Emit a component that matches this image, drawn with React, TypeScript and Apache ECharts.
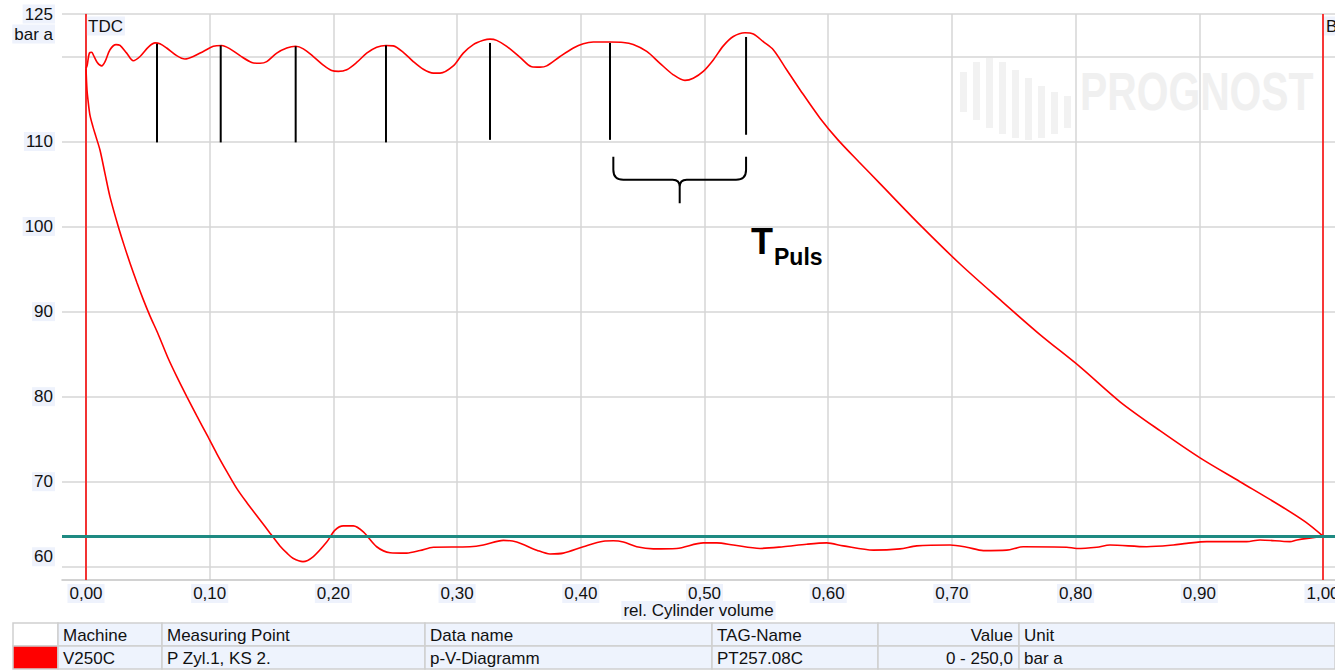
import React, { useEffect, useRef } from 'react';
import * as echarts from 'echarts';

const FONT = '"Liberation Sans", Arial, sans-serif';
const LABEL_BG = '#eef2fc';

const xTicks = [0, 0.1, 0.2, 0.3, 0.4, 0.5, 0.6, 0.7, 0.8, 0.9, 1.0];
const yGridValues = [60, 70, 80, 90, 100, 110, 120, 125];
const yLabelValues = [60, 70, 80, 90, 100, 110, 125];

// discharge + compression line (bar a vs rel. volume)
const upperCurve: [number, number][] = [
  [0.0, 118.6], [0.001, 119.0], [0.0027, 120.4], [0.0046, 120.5], [0.0059, 120.2], [0.0091, 119.3],
  [0.0127, 118.9], [0.0154, 119.4], [0.0194, 120.8], [0.0243, 121.4], [0.0275, 121.3], [0.0329, 120.4],
  [0.0382, 119.5], [0.0437, 120.0], [0.0504, 121.1], [0.0558, 121.6], [0.0598, 121.5], [0.0652, 121.0],
  [0.0733, 120.1], [0.08, 119.7], [0.0867, 120.0], [0.0948, 120.6], [0.1029, 121.2], [0.1097, 121.3],
  [0.1164, 120.9], [0.1245, 120.1], [0.134, 119.3], [0.1407, 119.2], [0.1461, 119.4], [0.1542, 120.4],
  [0.1623, 121.0], [0.1695, 121.2], [0.1757, 120.9], [0.1838, 120.0], [0.1918, 119.0], [0.1986, 118.35],
  [0.204, 118.25], [0.2108, 118.45], [0.2188, 119.3], [0.2269, 120.4], [0.235, 121.1], [0.2425, 121.3],
  [0.2484, 121.25], [0.2565, 120.5], [0.2646, 119.4], [0.2727, 118.5], [0.2808, 118.05], [0.2862, 118.05],
  [0.2969, 118.9], [0.305, 120.4], [0.3131, 121.4], [0.3212, 121.9], [0.3266, 122.05], [0.332, 121.9],
  [0.3401, 121.2], [0.3509, 119.9], [0.3603, 118.8], [0.367, 118.75], [0.3724, 118.9], [0.3832, 120.0],
  [0.394, 121.0], [0.402, 121.5], [0.4101, 121.7], [0.4236, 121.7], [0.4344, 121.65], [0.4424, 121.4],
  [0.4533, 120.6], [0.464, 119.2], [0.4748, 117.85], [0.4842, 117.2], [0.4909, 117.45], [0.499, 118.25],
  [0.5071, 119.6], [0.5152, 121.25], [0.5233, 122.35], [0.5327, 122.8], [0.5395, 122.65], [0.5475, 121.75],
  [0.5556, 120.8], [0.5664, 118.45], [0.5772, 116.1], [0.5934, 112.75], [0.6079, 110.2], [0.6249, 107.6],
  [0.6419, 105.05], [0.6742, 100.2], [0.7066, 95.6], [0.7389, 91.4], [0.7712, 87.3], [0.8036, 83.5],
  [0.8359, 79.4], [0.8682, 76.0], [0.9006, 72.8], [0.9329, 70.0], [0.9652, 67.2], [0.9855, 65.3], [1.0, 63.6],
];

// expansion + suction line
const lowerCurve: [number, number][] = [
  [0.0, 118.6], [0.0008, 116.1], [0.0016, 114.9], [0.0032, 113.1], [0.0057, 111.7], [0.0081, 110.55],
  [0.0113, 109.0], [0.0154, 106.2], [0.0194, 103.5], [0.0259, 100.1], [0.0307, 97.85], [0.0356, 95.7],
  [0.0412, 93.4], [0.0461, 91.5], [0.0517, 89.5], [0.0582, 87.4], [0.0663, 84.55], [0.0736, 82.3],
  [0.0817, 79.95], [0.0897, 77.7], [0.0978, 75.5], [0.1059, 73.25], [0.114, 71.15], [0.1221, 69.15],
  [0.1302, 67.5], [0.1407, 65.5], [0.1488, 63.95], [0.1568, 62.45], [0.1625, 61.6], [0.1673, 61.0],
  [0.1754, 60.6], [0.1838, 61.2], [0.1946, 62.9], [0.2013, 64.3], [0.208, 64.8], [0.2161, 64.8], [0.2242, 64.1],
  [0.235, 62.35], [0.2458, 61.65], [0.2593, 61.6], [0.27, 61.9], [0.2808, 62.3], [0.3104, 62.35],
  [0.3212, 62.55], [0.3374, 63.1], [0.3482, 62.9], [0.3644, 61.95], [0.3751, 61.5], [0.3859, 61.6],
  [0.402, 62.35], [0.4182, 63.0], [0.4263, 63.05], [0.4344, 62.9], [0.4452, 62.35], [0.4586, 62.1],
  [0.4775, 62.15], [0.499, 62.8], [0.5099, 62.8], [0.5233, 62.55], [0.5449, 62.15], [0.5637, 62.35],
  [0.5826, 62.65], [0.5988, 62.8], [0.6122, 62.45], [0.6365, 61.95], [0.658, 62.1], [0.6715, 62.45],
  [0.6985, 62.55], [0.712, 62.3], [0.7254, 61.9], [0.7443, 61.95], [0.7577, 62.35], [0.7928, 62.3],
  [0.8009, 62.15], [0.8171, 62.3], [0.8278, 62.55], [0.8575, 62.35], [0.879, 62.55], [0.8898, 62.75],
  [0.906, 62.95], [0.9383, 62.95], [0.9491, 63.15], [0.9733, 62.95], [0.979, 63.15], [1.0, 63.6],
];

const suctionPressure = 63.58;
const tdcPosition = 0;
const bdcPosition = 1;

// pulse peak markers
const markerX = [0.0574, 0.1089, 0.1695, 0.2425, 0.3266, 0.4236, 0.5336];
const markerTop = [121.5, 121.3, 121.2, 121.3, 121.6, 121.6, 122.3];
const markerBottom = [109.9, 109.9, 109.9, 109.9, 110.2, 110.2, 110.8];

// bracket marking T_Puls (between marker 6 and 7)
const bracketLeft = 0.4263;
const bracketRight = 0.5336;
const bracketTop = 108.2;
const bracketBar = 105.5;
const bracketTip = 102.75;

const tableColumns = ['', 'Machine', 'Measuring Point', 'Data name', 'TAG-Name', 'Value', 'Unit'];
const tableRow = ['', 'V250C', 'P Zyl.1, KS 2.', 'p-V-Diagramm', 'PT257.08C', '0 - 250,0', 'bar a'];
const tableColEdges = [13, 58, 162, 425, 712, 878, 1019, 1335];

function fmtX(v: number) {
  return v.toFixed(2).replace('.', ',');
}

export default function App() {
  const ref = useRef<HTMLDivElement>(null);
  useEffect(() => {
    if (!ref.current) return;
    const chart = echarts.init(ref.current, undefined, { renderer: 'svg' });

    const graphics: any[] = [];
    // watermark
    const barTops = [72, 62, 58, 62, 70, 78, 86, 92, 96];
    const barBottoms = [112, 120, 128, 134, 138, 140, 138, 134, 128];
    barTops.forEach((t, i) => {
      graphics.push({
        type: 'rect', z: -1, silent: true,
        shape: { x: 960 + i * 13, y: t, width: 7, height: barBottoms[i] - t },
        style: { fill: '#f2f2f2' },
      });
    });
    graphics.push({
      type: 'text', z: -1, silent: true, x: 1080, y: 92, scaleX: 0.77,
      style: {
        text: 'PROGNOST', fill: '#f0f0f0', font: `bold 53px ${FONT}`,
        textAlign: 'left', textVerticalAlign: 'middle',
      },
    });
    const lbl = (text: string, x: number, y: number, align: string) => ({
      type: 'text', x, y, z: 5,
      style: {
        text, fill: '#111', font: `17px ${FONT}`, textAlign: align, textVerticalAlign: 'middle',
        backgroundColor: LABEL_BG, padding: [1, 2],
      },
    });
    graphics.push(lbl('bar a', 55, 34, 'right'));
    graphics.push(lbl('TDC', 86, 26, 'left'));
    graphics.push(lbl('BDC', 1324, 26, 'left'));
    graphics.push({
      type: 'text', x: 751, y: 241, z: 5,
      style: { text: 'T', fill: '#000', font: `bold 36px ${FONT}`, textAlign: 'left', textVerticalAlign: 'middle' },
    });
    graphics.push({
      type: 'text', x: 774, y: 257, z: 5,
      style: { text: 'Puls', fill: '#000', font: `bold 23px ${FONT}`, textAlign: 'left', textVerticalAlign: 'middle' },
    });
    // table
    const rowTops = [623, 646];
    const rowH = 23;
    [tableColumns, tableRow].forEach((row, r) => {
      row.forEach((txt, c) => {
        const x0 = tableColEdges[c];
        const x1 = tableColEdges[c + 1];
        let fill = '#eef3fd';
        if (c === 0) fill = r === 0 ? '#ffffff' : '#ff0000';
        graphics.push({
          type: 'rect', z: 5,
          shape: { x: x0, y: rowTops[r], width: x1 - x0, height: rowH },
          style: { fill, stroke: '#cfcfcf', lineWidth: 1.5 },
        });
        if (txt) {
          const right = c === 5;
          graphics.push({
            type: 'text', z: 6,
            x: right ? x1 - 6 : x0 + 5, y: rowTops[r] + rowH / 2 + 0.5,
            style: {
              text: txt, fill: '#111', font: `17px ${FONT}`,
              textAlign: right ? 'right' : 'left', textVerticalAlign: 'middle',
            },
          });
        }
      });
    });

    const option: any = {
      animation: false,
      backgroundColor: '#ffffff',
      grid: { left: 62, top: 14, width: 1273, height: 566, outerBoundsMode: 'none', containLabel: false },
      xAxis: {
        type: 'value', min: -0.0194, max: 1.0097,
        name: 'rel. Cylinder volume', nameLocation: 'middle', nameGap: 21, nameMoveOverlap: false,
        nameTextStyle: { color: '#111', fontFamily: FONT, fontSize: 17, backgroundColor: LABEL_BG, padding: [1, 2] },
        axisLine: { show: true, lineStyle: { color: '#c4c4c4', width: 1.5 } },
        axisTick: { show: false, customValues: xTicks },
        axisLabel: {
          customValues: xTicks, formatter: (v: number) => fmtX(v), margin: 4,
          color: '#111', fontFamily: FONT, fontSize: 17, backgroundColor: LABEL_BG, padding: [1, 2],
        },
        splitLine: { show: true, lineStyle: { color: '#d6d6d6', width: 1.5 } },
      },
      yAxis: {
        type: 'value', min: 58.44, max: 125,
        axisLine: { show: true, lineStyle: { color: '#c4c4c4', width: 1.5 } },
        axisTick: { show: false, customValues: yGridValues },
        axisLabel: {
          customValues: yLabelValues, margin: 7, align: 'right',
          formatter: (v: number) => (v === 60 ? `{a|${v}}\n{gap| }` : `{a|${v}}`),
          rich: {
            a: { color: '#111', fontFamily: FONT, fontSize: 17, backgroundColor: LABEL_BG, padding: [1, 2], align: 'right' },
            gap: { height: 20, fontSize: 10 },
          },
        },
        splitLine: { show: true, lineStyle: { color: '#d6d6d6', width: 1.5 } },
      },
      series: [
        {
          type: 'line', data: upperCurve, symbol: 'none', smooth: 0.3, z: 3,
          lineStyle: { color: '#ff0000', width: 1.6 },
          markLine: {
            silent: true, symbol: ['none', 'none'], label: { show: false },
            lineStyle: { type: 'solid' },
            data: [
              { xAxis: tdcPosition, lineStyle: { color: '#ff0000', width: 1.5, type: 'solid' } },
              { xAxis: bdcPosition, lineStyle: { color: '#ff0000', width: 1.5, type: 'solid' } },
              { yAxis: suctionPressure, lineStyle: { color: '#1e8a82', width: 3, type: 'solid' } },
            ],
          },
        },
        {
          type: 'line', data: lowerCurve, symbol: 'none', smooth: 0.3, z: 3,
          lineStyle: { color: '#ff0000', width: 1.6 },
        },
        {
          type: 'custom', z: 4,
          data: markerX.map((x, i) => [x, markerTop[i], markerBottom[i]]),
          encode: { x: 0, y: [1, 2] },
          renderItem: (_p: any, api: any) => {
            const a = api.coord([api.value(0), api.value(1)]);
            const b = api.coord([api.value(0), api.value(2)]);
            return {
              type: 'line',
              shape: { x1: a[0], y1: a[1], x2: b[0], y2: b[1] },
              style: { stroke: '#000', lineWidth: 2 },
            };
          },
        },
        {
          type: 'custom', z: 4,
          data: [[bracketLeft, bracketRight, bracketTop, bracketBar, bracketTip]],
          encode: { x: [0, 1], y: [2, 3, 4] },
          renderItem: (_p: any, api: any) => {
            const [L, T] = api.coord([api.value(0), api.value(2)]);
            const [R] = api.coord([api.value(1), api.value(2)]);
            const B = api.coord([api.value(0), api.value(3)])[1];
            const P = api.coord([api.value(0), api.value(4)])[1];
            const C = (L + R) / 2;
            const r = 10;
            const d = [
              `M${L} ${T}`, `L${L} ${B - r}`, `Q${L} ${B} ${L + r} ${B}`, `L${C - 7} ${B}`,
              `Q${C} ${B} ${C} ${B + 7}`, `L${C} ${P}`,
              `M${R} ${T}`, `L${R} ${B - r}`, `Q${R} ${B} ${R - r} ${B}`, `L${C + 7} ${B}`,
              `Q${C} ${B} ${C} ${B + 7}`,
            ].join(' ');
            return {
              type: 'path',
              shape: { pathData: d },
              style: { stroke: '#000', lineWidth: 2, fill: 'none' },
            };
          },
        },
      ],
      graphic: graphics,
    };
    chart.setOption(option);
    return () => chart.dispose();
  }, []);
  return (
    <div
      ref={ref}
      style={{ position: 'fixed', left: 0, top: 0, width: 1335, height: 671, background: '#fff' }}
    />
  );
}
